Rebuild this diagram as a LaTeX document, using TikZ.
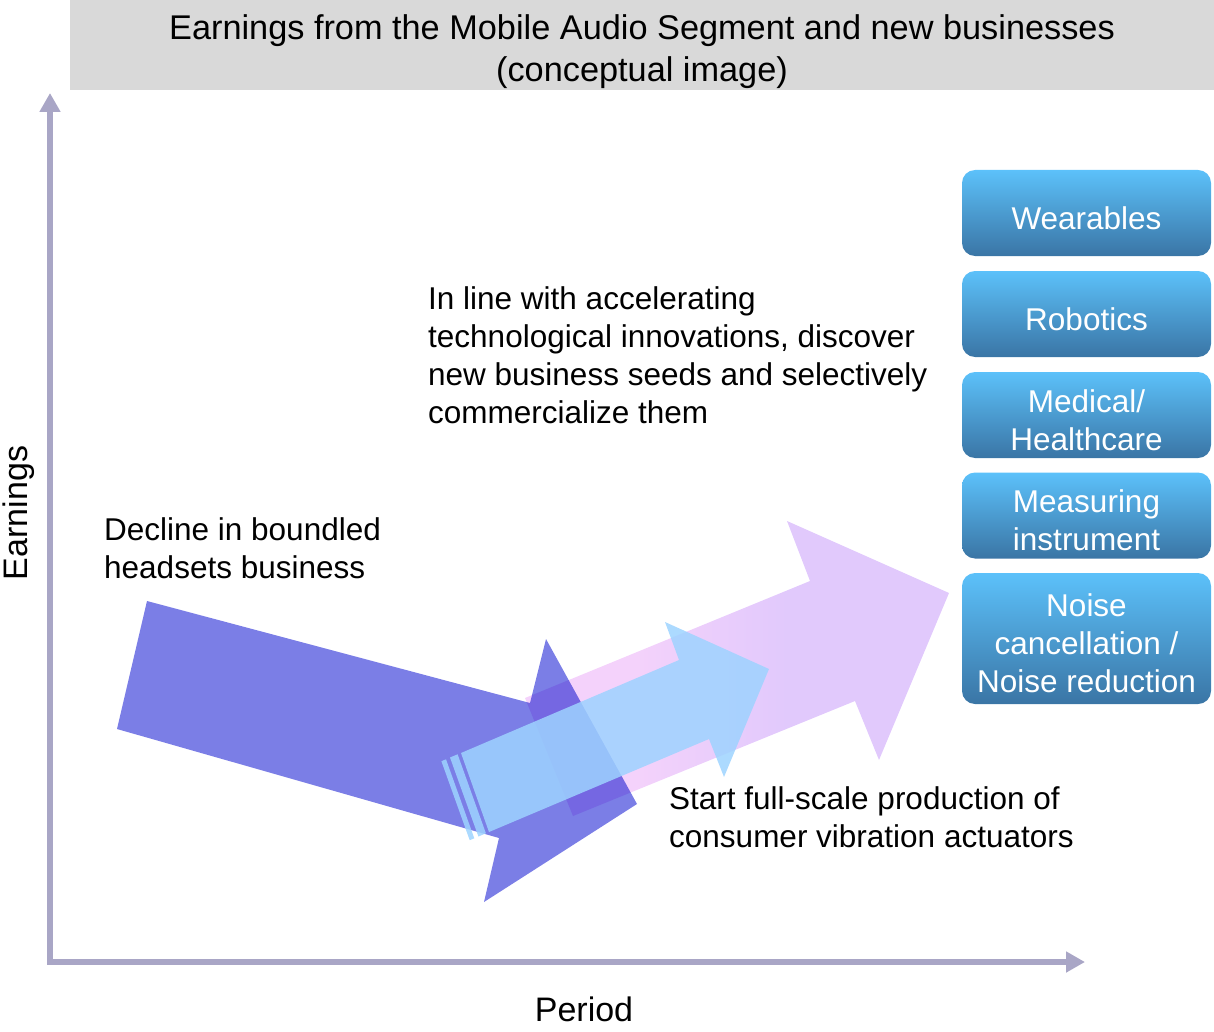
\documentclass[tikz,border=0pt]{standalone}
\usepackage{fontspec}
\setmainfont{Liberation Sans}
\usetikzlibrary{arrows.meta}

% shaft of the big arrow fades from pink into lavender
\definecolor{seedpink}{HTML}{F4D2FB}
\definecolor{seedlav}{HTML}{E1C9FC}
\pgfdeclarehorizontalshading{seedfade}{100bp}{color(0bp)=(seedpink); color(25bp)=(seedpink); color(38bp)=(seedpink); color(56bp)=(seedlav); color(100bp)=(seedlav)}

\newcommand\bodysize{\fontsize{31.5}{38}\selectfont}

\begin{document}
\begin{tikzpicture}[x=1pt,y=-1pt]
  \definecolor{bandgray}{HTML}{D9D9D9}
  \definecolor{axisgray}{HTML}{A9A6C6}
  \definecolor{headset}{HTML}{7B7EE6}
  \definecolor{actuator}{HTML}{9ED3FF}
  \definecolor{boxtop}{HTML}{5CC1FA}
  \definecolor{boxbot}{HTML}{3A75A5}
  \useasboundingbox (0,0) rectangle (1214,1032);

  \tikzset{
    txt/.style={font=\bodysize, align=left, inner sep=0pt, anchor=north west},
    field/.style={rounded corners=13pt, top color=boxtop, bottom color=boxbot,
      minimum width=249pt, minimum height=86pt, inner sep=0pt},
    fieldtext/.style={text=white, font=\bodysize, align=center, yshift=-5pt},
    axis/.style={axisgray, line width=6pt, line join=miter,
      {Triangle[width=20pt,length=19pt]}-{Triangle[width=20pt,length=19pt]}}
  }

  % heading band
  \fill[bandgray] (70,0) rectangle (1214,90);
  \node[font=\fontsize{34.3}{42}\selectfont, align=center] (title) at (642,52)
    {Earnings from the Mobile Audio Segment and new businesses\\(conceptual image)};

  % axes
  \coordinate (o) at (50,962);
  \coordinate (ytip) at (50,93);
  \coordinate (xtip) at (1085,962);
  \draw[axis] (ytip) -- (o) -- (xtip);
  \node[font=\fontsize{34}{40}\selectfont, rotate=90] (ylab) at (19,513) {Earnings};
  \node[font=\fontsize{34}{40}\selectfont] (xlab) at (584,1009) {Period};

  % falling headset arrow, then the big arrow multiplied over it
  \fill[headset] (147,601) -- (530,703) -- (546,639) -- (637,804)
    -- (484,902) -- (499,838) -- (117,729) -- cycle;
  \shade[shading=seedfade, blend mode=multiply] (525,698) -- (810,581) -- (787,521)
    -- (949,593) -- (879,760) -- (855,701) -- (573,816) -- cycle;

  % striped arrow of the actuators
  \begin{scope}[fill=actuator, fill opacity=.85]
    \fill (461,753) -- (679,660) -- (665,622) -- (769,669)
      -- (724,777) -- (709,739) -- (489,832) -- cycle;
    \fill (450,757.5) -- (457.6,754.3) -- (485.9,833.3) -- (478.4,836.5) -- cycle;
    \fill (441.4,761.2) -- (446,759.3) -- (474.3,838.3) -- (469.7,840.2) -- cycle;
  \end{scope}

  \node[txt] (seeds) at (428,286) {In line with accelerating\\technological innovations, discover\\new business seeds and selectively\\commercialize them};
  \node[txt] (decline) at (104,517) {Decline in boundled\\headsets business};
  \node[txt] (vibration) at (669,786) {Start full-scale production of\\consumer vibration actuators};

  % new business fields
  \node[field] (wear) at (1086.5,213) {};
  \node[field] (robo) at (1086.5,314) {};
  \node[field] (medic) at (1086.5,415) {};
  \node[field] (measure) at (1086.5,515.5) {};
  \node[field, minimum height=131pt] (noise) at (1086.5,638.5) {};
  \node[fieldtext] (wear-t) at (wear) {Wearables};
  \node[fieldtext] (robo-t) at (robo) {Robotics};
  \node[fieldtext] (medic-t) at (medic) {Medical/\\Healthcare};
  \node[fieldtext] (measure-t) at (measure) {Measuring\\instrument};
  \node[fieldtext] (noise-t) at (noise) {Noise\\cancellation /\\Noise reduction};
\end{tikzpicture}
\end{document}
